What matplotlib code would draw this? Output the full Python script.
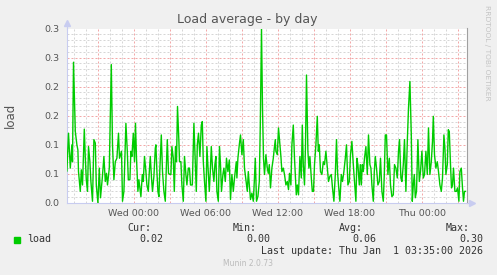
import numpy as np
import matplotlib
matplotlib.use('Agg')
import matplotlib.pyplot as plt
from matplotlib.ticker import MultipleLocator, FixedLocator

# Munin "Load average - by day"; tiempo en minutos respecto a Thu 00:00
minutes = [
    -1775, -1767, -1758, -1750, -1747, -1742, -1733, -1725, -1720, -1717,
    -1708, -1703, -1697, -1688, -1683, -1678, -1672, -1667, -1660, -1655,
    -1647, -1640, -1633, -1628, -1620, -1613, -1607, -1598, -1590, -1583,
    -1577, -1572, -1563, -1553, -1547, -1540, -1533, -1525, -1517, -1512,
    -1502, -1497, -1490, -1480, -1473, -1468, -1460, -1455, -1450, -1443,
    -1437, -1432, -1427, -1420, -1415, -1410, -1405, -1398, -1393, -1387,
    -1380, -1375, -1368, -1363, -1358, -1352, -1347, -1340, -1333, -1330,
    -1325, -1320, -1315, -1310, -1303, -1297, -1290, -1283, -1278, -1273,
    -1267, -1260, -1255, -1250, -1243, -1238, -1232, -1227, -1222, -1215,
    -1212, -1205, -1200, -1193, -1187, -1180, -1175, -1168, -1162, -1157,
    -1148, -1140, -1133, -1128, -1123, -1117, -1110, -1103, -1098, -1093,
    -1087, -1080, -1075, -1070, -1063, -1058, -1053, -1047, -1040, -1035,
    -1030, -1025, -1018, -1012, -1007, -1002, -995, -990, -983, -977,
    -970, -963, -957, -950, -943, -937, -928,
    -925, -920, -913, -907, -900, -893, -887, -880, -873, -868,
    -863, -857, -850, -843, -838, -833, -827, -820, -813, -808,
    -802, -797, -792, -787, -780, -773, -768, -763, -757, -750,
    -743, -738, -733, -730, -723, -717, -710, -705, -700, -693,
    -687, -680, -673, -667, -662, -655, -650, -643, -637,
    -633, -628, -623, -617, -610, -603, -598, -593, -587, -582,
    -577, -570, -565, -560, -553, -548, -542, -537, -530, -523,
    -518, -513, -507, -500, -493, -487, -480, -473, -467, -460,
    -453, -447, -440, -433, -427, -422, -417, -410, -403, -397,
    -390, -383, -377, -370, -363, -357, -350,
    -343, -337, -330, -325, -320, -313, -308, -303, -298, -293,
    -287, -280, -273, -267, -260, -255, -250, -243, -238, -233,
    -227, -220, -213, -207, -200, -193, -188, -183, -177, -170,
    -163, -157, -150, -143, -137, -130, -123, -117, -112, -105,
    -100, -93, -87, -80, -73, -67, -60,
    -53, -48, -43, -38, -33, -27, -20, -13, -7, 0,
    7, 13, 20, 27, 33, 40, 47, 53, 57, 63,
    70, 77, 83, 90, 97, 103, 110, 115, 120, 127,
    132, 137, 143, 148, 153, 158, 165, 172, 178, 185,
    190, 197, 203, 208, 213, 218,
]
load = [
    .055, .12, .06, .10, .071, .242, .123, .10, .091, .054,
    .02, .057, .031, .127, .077, .04, .02, .097, .071, .037,
    .003, .109, .103, .031, 0, .06, .009, .043, .08, .037,
    .051, .031, .06, .238, .10, .04, .071, .077, .12, .077,
    .089, .003, .02, .137, .089, .04, .04, .089, .08, .12,
    .071, .137, .077, .02, .04, .026, .011, .049, .037, .08,
    .054, .031, .02, .054, .08, .043, .02, .046, .094, .10,
    .054, .02, .011, .06, .117, .054, .02, .003, .06, .109,
    .051, .049, .049, .097, .077, .02, .097, .071, .166, .106,
    .071, .071, .031, .003, .08, .049, .031, .06, .06, .031,
    .031, .137, .066, .02, .10, .12, .08, .134, .14, .071,
    .037, .003, .097, .066, .02, .054, .097, .06, .037, .066,
    .08, .02, .003, .097, .066, .02, .049, .06, .037, .077,
    .054, .074, .006, .049, .02, .043, .071,
    .043, .077, .10, .117, .083, .109, .06, .04, .02, .054,
    .031, .006, .017, .003, .037, .077, .003, .011, .037, .134,
    .30, .163, .077, .049, .083, .06, .051, .066, .026, .06,
    .077, .094, .109, .089, .083, .129, .10, .08, .054, .06,
    .049, .031, .037, .023, .051, .031, .10, .134, .077,
    .049, .014, .031, .014, .08, .043, .134, .066, .031, .10,
    .22, .089, .06, .08, .043, .02, .02, .066, .10, .149,
    .089, .10, .054, .049, .071, .066, .089, .06, .037, .046,
    .049, .026, .003, .049, .109, .054, .031, .003, .049, .037,
    .054, .077, .10, .031, .037, .083, .106,
    .066, .037, .003, .077, .066, .031, .066, .031, .066, .054,
    .077, .097, .049, .117, .066, .06, .031, .003, .054, .08,
    .06, .031, .037, .077, .02, .003, .049, .117, .117, .049,
    .077, .031, .011, .014, .066, .06, .043, .089, .109, .043,
    .037, .066, .109, .02, .106, .163, .209,
    .117, .003, .031, .049, .009, .02, .109, .037, .054, .089,
    .043, .049, .089, .049, .129, .049, .071, .106, .149, .083,
    .06, .071, .054, .031, .02, .043, .117, .094, .049, .066,
    .126, .123, .066, .026, .031, .06, .02, .02, .026, .003,
    .054, .06, .026, .003, .02, .02,
]
assert len(minutes) == len(load)

tick_minutes = [-1440, -1080, -720, -360, 0]
tick_labels = ['Wed 00:00', 'Wed 06:00', 'Wed 12:00', 'Wed 18:00', 'Thu 00:00']
y_ticks = [0.0, 0.05, 0.10, 0.15, 0.20, 0.25, 0.30]
y_labels = ['0.0', '0.1', '0.1', '0.2', '0.2', '0.3', '0.3']
stat_names = ['Cur:', 'Min:', 'Avg:', 'Max:']
stat_values = ['0.02', '0.00', '0.06', '0.30']

bg = '#F0F0F0'
green = '#00CC00'
axis_col = '#C8CCF0'

fig = plt.figure(figsize=(4.97, 2.75), dpi=100, facecolor=bg)
ax = fig.add_axes([66.7/497, 1-203/275, 400/497, 174.5/275])
ax.set_facecolor('white')

ax.plot(minutes, load, color=green, lw=1.0, zorder=3)
ax.set_xlim(-1776, 224)
ax.set_ylim(0, 0.3)

# rejilla: mayor roja cada 3h y 0.05, menor gris cada 1h y 0.01
xmaj = np.arange(-1620, 224, 180)
ax.xaxis.set_major_locator(FixedLocator(xmaj))
lab = dict(zip(tick_minutes, tick_labels))
ax.set_xticklabels([lab.get(int(m), '') for m in xmaj])
ax.xaxis.set_minor_locator(MultipleLocator(60))
ax.set_yticks(y_ticks)
ax.set_yticklabels(y_labels)
ax.yaxis.set_minor_locator(MultipleLocator(0.01))
ax.grid(True, which='minor', color='#D6D6D6', lw=0.72, ls=(0, (2, 2)))
ax.grid(True, which='major', color='#F2A8A8', lw=0.72, ls=(0, (2, 2)))
ax.set_axisbelow(True)
ax.tick_params(which='both', length=0, labelsize=6.8, labelcolor='#555555')
ax.tick_params(axis='x', pad=4)
ax.tick_params(axis='y', pad=5)

ax.spines['top'].set_visible(False)
ax.spines['right'].set_color('#A0A0A0')
ax.spines['left'].set_color(axis_col)
ax.spines['bottom'].set_color(axis_col)
for s in ax.spines.values():
    s.set_linewidth(0.8)
# flechas de los ejes
ax.plot([0, 0], [1.0, 1.03], color=axis_col, lw=0.8, transform=ax.transAxes, clip_on=False)
ax.plot([0], [1.03], marker='^', ms=4, color=axis_col, transform=ax.transAxes, clip_on=False)
ax.plot([1.0, 1.012], [0, 0], color=axis_col, lw=0.8, transform=ax.transAxes, clip_on=False)
ax.plot([1.012], [0], marker='>', ms=4, color=axis_col, transform=ax.transAxes, clip_on=False)

fig.text(247.5/497, 1-19/275, 'Load average - by day', ha='center', va='center',
         fontsize=9, color='#555555')
fig.text(10/497, 1-115/275, 'load', rotation=90, ha='center', va='center',
         fontsize=8.5, color='#555555')
fig.text(487.5/497, 1-53/275, 'RRDTOOL / TOBI OETIKER', rotation=270, ha='center',
         va='center', fontsize=5.4, color='#C4C4C4')

# leyenda estilo munin
mono = dict(family='DejaVu Sans Mono', fontsize=7.2, color='#333333')
fig.patches.append(plt.Rectangle((14/497, 1-243/275), 6/497, 6/275, color=green,
                                 transform=fig.transFigure, figure=fig))
fig.text(26.7/497, 1-239/275, 'load', ha='left', va='center', **mono)
name_x = [151, 257, 363, 470]
val_x = [163, 270, 376, 483]
for n, v, nx, vx in zip(stat_names, stat_values, name_x, val_x):
    fig.text(nx/497, 1-228/275, n, ha='right', va='center', **mono)
    fig.text(vx/497, 1-239/275, v, ha='right', va='center', **mono)
fig.text(483/497, 1-251/275, 'Last update: Thu Jan  1 03:35:00 2026', ha='right',
         va='center', **mono)
fig.text(248/497, 1-264/275, 'Munin 2.0.73', ha='center', va='center',
         fontsize=5.5, color='#BBBBBB')

plt.savefig('out.png', dpi=100, facecolor=bg)
